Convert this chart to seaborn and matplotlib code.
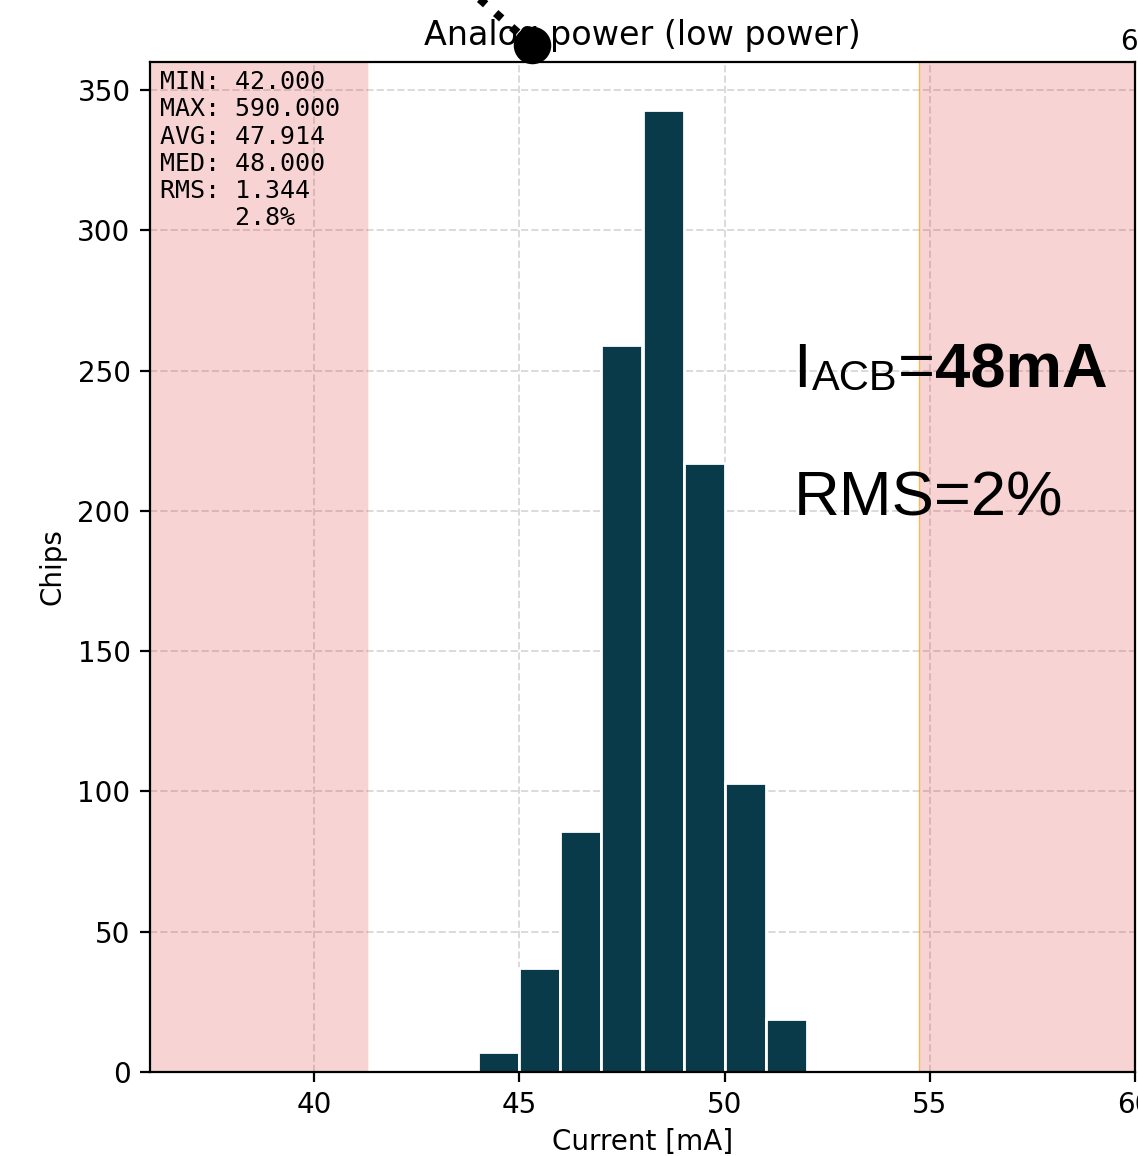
import matplotlib
matplotlib.use("Agg")
import matplotlib.pyplot as plt
from matplotlib.lines import Line2D
from matplotlib.transforms import IdentityTransform
import seaborn as sns

# ---- data ----
bin_left = [44, 45, 46, 47, 48, 49, 50, 51]
counts = [7, 37, 86, 259, 343, 217, 103, 19]
bin_edges = [44, 45, 46, 47, 48, 49, 50, 51, 52]
limit_low = 41.3
limit_high = 54.73
x_range = (36, 60)
y_range = (0, 360)
x_ticks = [40, 45, 50, 55, 60]
y_ticks = [0, 50, 100, 150, 200, 250, 300, 350]
stats_text = "MIN: 42.000\nMAX: 590.000\nAVG: 47.914\nMED: 48.000\nRMS: 1.344\n     2.8%"
title = "Analog power (low power)"

W, H, DPI = 1138, 1156, 200
fig = plt.figure(figsize=(W / DPI, H / DPI), dpi=DPI)
ax = fig.add_axes([150 / W, 1 - 1072 / H, (1135 - 150) / W, (1072 - 62) / H])

ax.grid(True, linestyle='--', color='#dadada', linewidth=0.7, zorder=0)
ax.set_axisbelow(True)

ax.axvspan(x_range[0], limit_low, facecolor='#e03030', alpha=0.21, edgecolor='none', zorder=1)
ax.axvspan(limit_high, x_range[1], facecolor='#e03030', alpha=0.21, edgecolor='none', zorder=1)
ax.axvline(limit_high, color='orange', linewidth=0.5, alpha=0.6, zorder=1)
ax.axvline(limit_low, color='orange', linewidth=0.3, alpha=0.15, zorder=1)

centers = [b + 0.5 for b in bin_left]
sns.histplot(x=centers, weights=counts, bins=bin_edges, ax=ax,
             color='#083a4a', alpha=1.0, edgecolor='white', linewidth=1.0, zorder=3)

ax.set_xlim(*x_range)
ax.set_ylim(*y_range)
ax.set_xticks(x_ticks)
ax.set_yticks(y_ticks)
ax.set_xlabel("Current [mA]", fontsize=10, labelpad=3)
ax.set_ylabel("Chips", fontsize=10)
ax.set_title(title, fontsize=12)
for s in ax.spines.values():
    s.set_color('black')
    s.set_linewidth(0.8)
    s.set_zorder(5)

ax.text(0.01, 0.992, stats_text, transform=ax.transAxes, va='top', ha='left',
        family='DejaVu Sans Mono', fontsize=9, linespacing=1.17, zorder=6)

# big annotation texts
BIG = 22.8
t1 = ax.text(51.68, 244.1, 'I', fontsize=BIG, family='Liberation Sans',
             va='baseline', ha='left', zorder=6)
ax.text(51.68, 198.5, 'RMS=2%', fontsize=BIG, family='Liberation Sans',
        va='baseline', ha='left', zorder=6)
fig.canvas.draw()
renderer = fig.canvas.get_renderer()
base_y = ax.transData.transform((51.68, 244.1))[1]
bb = t1.get_window_extent(renderer)
t2 = ax.text(bb.x1 + 1, base_y - 3, 'ACB', fontsize=15, family='Liberation Sans',
             va='baseline', ha='left', transform=IdentityTransform(), zorder=6)
bb = t2.get_window_extent(renderer)
t3 = ax.text(bb.x1, base_y, '=', fontsize=BIG, family='Liberation Sans',
             va='baseline', ha='left', transform=IdentityTransform(), zorder=6)
bb = t3.get_window_extent(renderer)
ax.text(bb.x1, base_y, '48mA', fontsize=BIG, family='Liberation Sans', weight='bold',
        va='baseline', ha='left', transform=IdentityTransform(), zorder=6)

fig.text(1120 / W, 1 - 50 / H, '6', fontsize=10, ha='left', va='baseline')

# pointer artifact over the title
x0, y0 = 532, 45
xs = [x0 - 120, x0]
ys = [y0 - 120 * 18 / 20.5, y0]
line = Line2D([x / W for x in xs], [1 - y / H for y in ys], transform=fig.transFigure,
              color='black', linewidth=2.9, linestyle=':', clip_on=False)
fig.add_artist(line)
dot = Line2D([x0 / W], [1 - y0 / H], transform=fig.transFigure, marker='o',
             markersize=12.5, color='black', linestyle='none', clip_on=False)
fig.add_artist(dot)

fig.savefig("out.png", dpi=DPI)
